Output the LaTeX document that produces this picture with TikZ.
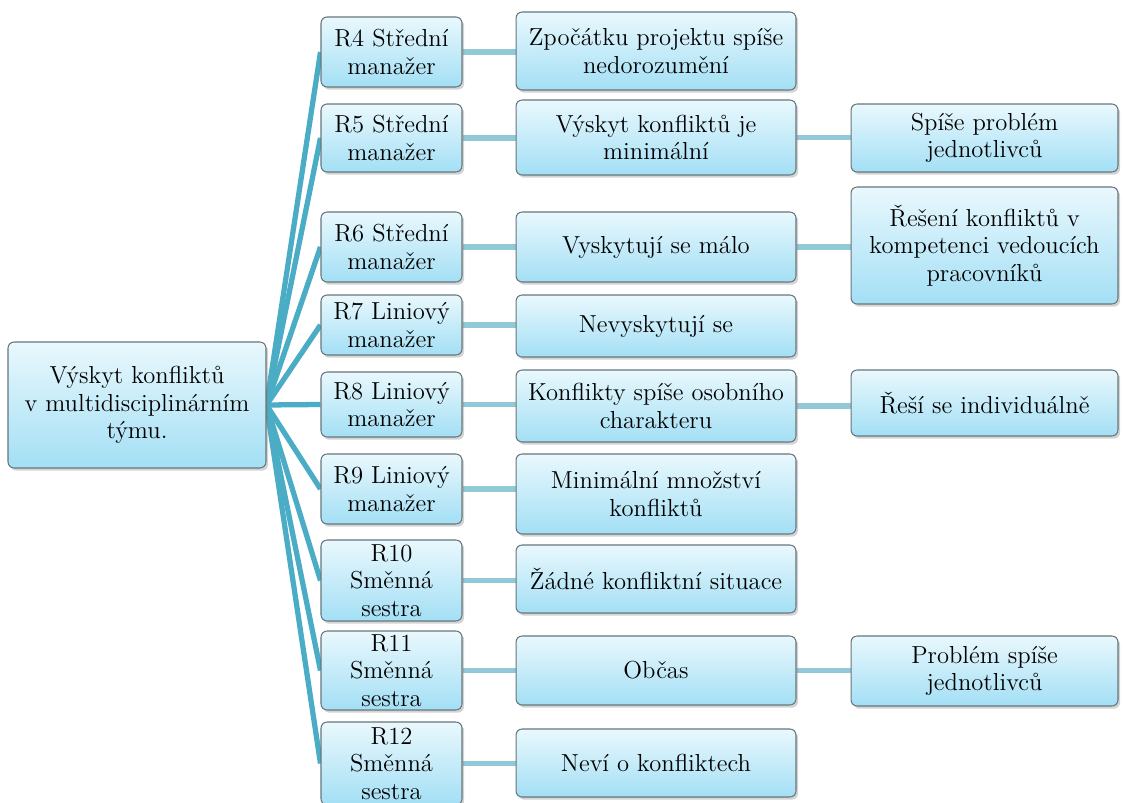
\documentclass[tikz,border=0pt]{standalone}
\usetikzlibrary{positioning,shadows,backgrounds}
\definecolor{Trunk}{HTML}{4BACC6}
\definecolor{Twig}{HTML}{92C9D9}
\definecolor{BoxTop}{HTML}{E9F8FD}
\definecolor{BoxBot}{HTML}{A3DFF5}
\definecolor{Rim}{HTML}{66777D}

\tikzset{
  box/.style={draw=Rim,line width=0.6pt,rounded corners=3.5pt,top color=BoxTop,bottom color=BoxBot,
    drop shadow={shadow xshift=1.2pt,shadow yshift=-1.5pt,opacity=0.35},
    align=center,inner sep=1pt,font=\fontsize{14}{15.6}\selectfont},
  role/.style={box,minimum width=2.82cm},
  answer/.style={box,minimum width=5.6cm},
  note/.style={box,minimum width=5.34cm},
  trunk/.style={Trunk,line width=3pt},
  twig/.style={Twig,line width=3pt}
}

\begin{document}
\begin{tikzpicture}[x=0.02cm,y=-0.02cm]
\useasboundingbox (0,0) rectangle (1123,803);
% hlavni uzel
\node[box,minimum width=5.16cm,minimum height=2.52cm] (root) at (137,405) {Výskyt konfliktů\\v multidisciplinárním\\týmu.};
% respondenti
\node[role,minimum height=1.40cm] (r4) at (391.5,52) {R4 Střední\\manažer};
\node[role,minimum height=1.36cm] (r5) at (391.5,138) {R5 Střední\\manažer};
\node[role,minimum height=1.40cm] (r6) at (391.5,247) {R6 Střední\\manažer};
\node[role,minimum height=1.20cm] (r7) at (391.5,325) {R7 Liniový\\manažer};
\node[role,minimum height=1.30cm] (r8) at (391.5,404.5) {R8 Liniový\\manažer};
\node[role,minimum height=1.40cm] (r9) at (391.5,489) {R9 Liniový\\manažer};
\node[role,minimum height=1.62cm] (r10) at (391.5,580.5) {R10\\Směnná\\sestra};
\node[role,minimum height=1.58cm] (r11) at (391.5,670.5) {R11\\Směnná\\sestra};
\node[role,minimum height=1.66cm] (r12) at (391.5,763.5) {R12\\Směnná\\sestra};
% odpovedi
\node[answer,minimum height=1.56cm] (a4) at (656,51) {Zpočátku projektu spíše\\nedorozumění};
\node[answer,minimum height=1.50cm] (a5) at (656,137.5) {Výskyt konfliktů je\\minimální};
\node[answer,minimum height=1.40cm] (a6) at (656,247) {Vyskytují se málo};
\node[answer,minimum height=1.24cm] (a7) at (656,326) {Nevyskytují se};
\node[answer,minimum height=1.44cm] (a8) at (656,406) {Konflikty spíše osobního\\charakteru};
\node[answer,minimum height=1.60cm] (a9) at (656,494) {Minimální množství\\konfliktů};
\node[answer,minimum height=1.36cm] (a10) at (656,579) {Žádné konfliktní situace};
\node[answer,minimum height=1.38cm] (a11) at (656,670.5) {Občas};
\node[answer,minimum height=1.36cm] (a12) at (656,763) {Neví o konfliktech};
% poznamky
\node[note,minimum height=1.36cm] (b5) at (984.5,138) {Spíše problém\\jednotlivců};
\node[note,minimum height=2.34cm] (b6) at (984.5,245.5) {Řešení konfliktů v\\kompetenci vedoucích\\pracovníků};
\node[note,minimum height=1.32cm] (b8) at (984.5,403) {Řeší se individuálně};
\node[note,minimum height=1.40cm] (b11) at (984.5,671) {Problém spíše\\jednotlivců};
\begin{scope}[on background layer]
\foreach \n in {4,...,12} \draw[trunk] (root.east) -- (r\n.west);
\foreach \n in {4,...,12} \draw[twig] (r\n.east) -- (r\n.east -| a\n.west);
\foreach \n in {5,6,8,11} \draw[twig] (a\n.east) -- (a\n.east -| b\n.west);
\end{scope}
\end{tikzpicture}
\end{document}
